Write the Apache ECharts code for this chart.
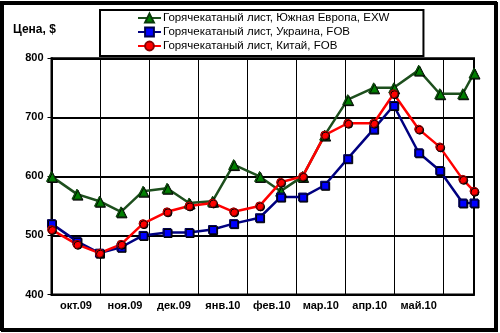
<!DOCTYPE html>
<html>
<head>
<meta charset="utf-8">
<script src="https://cdn.jsdelivr.net/npm/echarts@6/dist/echarts.min.js"></script>
<style>
  html, body { margin: 0; padding: 0; background: #fff; }
  #main { width: 500px; height: 333px; }
</style>
</head>
<body>
<div id="main"></div>
<script>
// подписи месяцев (по центру месяца)
var months = ['окт.09', 'ноя.09', 'дек.09', 'янв.10', 'фев.10', 'мар.10', 'апр.10', 'май.10'];
// положение точек по оси X, в месяцах от начала октября
var pointPos = [0, 0.52, 0.98, 1.42, 1.87, 2.36, 2.81, 3.29, 3.72, 4.25, 4.68, 5.13, 5.58, 6.05, 6.58, 6.99, 7.50, 7.93, 8.40, 8.63];
var seriesNames = [
    'Горячекатаный лист, Южная Европа, EXW',
    'Горячекатаный лист, Украина, FOB',
    'Горячекатаный лист, Китай, FOB'
];
var europe = [600, 570, 558, 540, 575, 580, 555, 558, 620, 600, 575, 600, 670, 730, 750, 750, 780, 740, 740, 775];
var ukraine = [520, 490, 470, 480, 500, 505, 505, 510, 520, 530, 565, 565, 585, 630, 680, 720, 640, 610, 555, 555];
var china = [510, 485, 470, 485, 520, 540, 550, 555, 540, 550, 590, 600, 670, 690, 690, 740, 680, 650, 595, 575];
var yTicks = [400, 500, 600, 700, 800];

function pairs(vals) {
    var out = [];
    for (var i = 0; i < vals.length; i++) {
        out.push([pointPos[i], vals[i]]);
    }
    return out;
}

var myChart = echarts.init(document.getElementById('main'));
var font = 'Liberation Sans, Arial, sans-serif';

var option = {
    animation: false,
    backgroundColor: '#fff',
    title: {
        text: 'Цена, $',
        left: 8,
        top: 19,
        textStyle: { fontFamily: font, fontSize: 12, fontWeight: 'bold', color: '#000' }
    },
    graphic: [{
        type: 'rect',
        shape: { x: 1.5, y: 2.5, width: 494, height: 327 },
        style: {
            fill: 'none', stroke: '#000', lineWidth: 3,
            shadowColor: '#000', shadowOffsetX: 1, shadowOffsetY: 1
        },
        silent: true
    }],
    legend: {
        orient: 'vertical',
        left: 100,
        top: 10,
        padding: [2, 34, 4, 37],
        itemGap: 2,
        itemWidth: 23,
        itemHeight: 11,
        borderColor: '#000',
        borderWidth: 2,
        textStyle: { fontFamily: font, fontSize: 11.5, color: '#000', padding: [0, 0, 0, -3] },
        data: seriesNames
    },
    grid: {
        left: 51.5,
        top: 58.3,
        right: 26,
        bottom: 38.5,
        show: true,
        borderColor: '#000',
        borderWidth: 2,
        backgroundColor: '#fff'
    },
    xAxis: {
        type: 'value',
        min: 0,
        max: 8.63,
        interval: 1,
        axisLine: { lineStyle: { color: '#000', width: 2 } },
        axisTick: { show: false },
        splitLine: { show: true, lineStyle: { color: '#000', width: 1 } },
        axisLabel: {
            fontFamily: font, fontSize: 11, fontWeight: 'bold', color: '#000',
            margin: 6,
            padding: [0, 0, 0, 49],
            showMaxLabel: false,
            formatter: function (v) {
                return (Number.isInteger(v) && v < months.length) ? months[v] : '';
            }
        }
    },
    yAxis: {
        type: 'value',
        min: yTicks[0],
        max: yTicks[yTicks.length - 1],
        interval: 100,
        axisLine: { show: true, lineStyle: { color: '#000', width: 2 } },
        axisTick: { show: true, length: 4, lineStyle: { color: '#000' } },
        splitLine: { show: true, lineStyle: { color: '#000', width: 1.8 } },
        axisLabel: { fontFamily: font, fontSize: 11, fontWeight: 'bold', color: '#000', margin: 8 }
    },
    series: [{
        name: seriesNames[0],
        type: 'line',
        data: pairs(europe),
        symbol: 'triangle',
        symbolSize: 10,
        lineStyle: { color: '#1d4f1d', width: 2.5 },
        itemStyle: { color: '#008000', borderColor: '#0a3a0a', borderWidth: 1, shadowColor: '#000', shadowOffsetX: 1, shadowOffsetY: 1 }
    }, {
        name: seriesNames[1],
        type: 'line',
        data: pairs(ukraine),
        symbol: 'rect',
        symbolSize: 8,
        lineStyle: { color: '#000080', width: 2.5 },
        itemStyle: { color: '#0000ff', borderColor: '#00004a', borderWidth: 1, shadowColor: '#000', shadowOffsetX: 1, shadowOffsetY: 1 }
    }, {
        name: seriesNames[2],
        type: 'line',
        data: pairs(china),
        symbol: 'circle',
        symbolSize: 8,
        lineStyle: { color: '#ff0000', width: 2.5 },
        itemStyle: { color: '#ff0000', borderColor: '#8a0000', borderWidth: 1, shadowColor: '#000', shadowOffsetX: 1, shadowOffsetY: 1 }
    }]
};
myChart.setOption(option);
</script>
</body>
</html>
